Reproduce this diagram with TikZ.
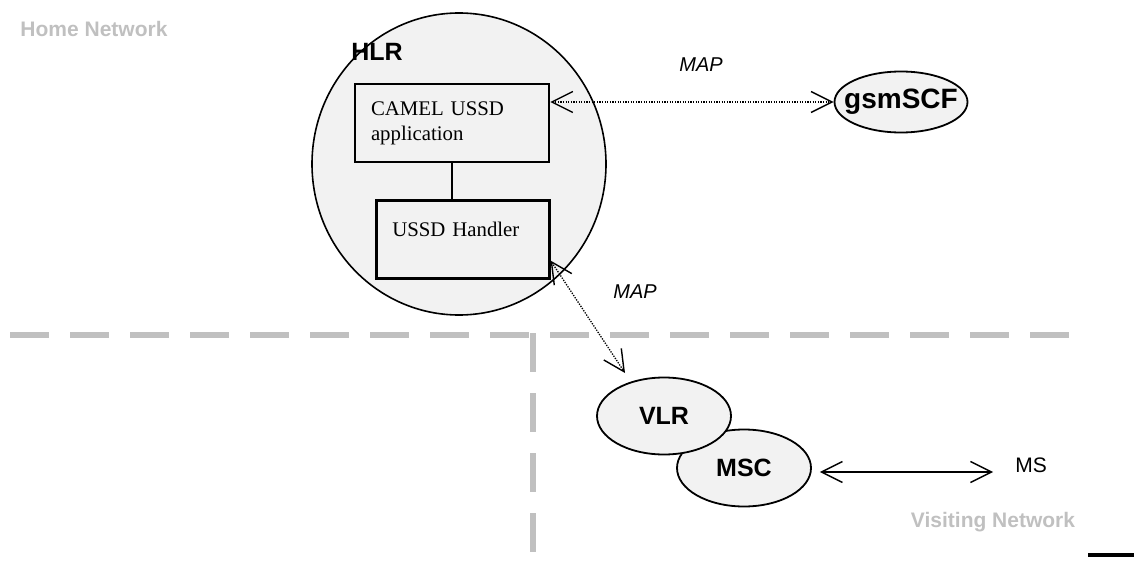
\documentclass[tikz,border=0pt]{standalone}
\usepackage{fontspec}
\setmainfont{Liberation Sans}
\newfontfamily\serifbox{Liberation Serif}
\usepackage{tikz}
\usetikzlibrary{arrows.meta,shapes.geometric}
\definecolor{netgray}{HTML}{C0C0C0}
\definecolor{shade}{HTML}{F2F2F2}

\begin{document}
\begin{tikzpicture}[x=1pt,y=-1pt,
  >={Straight Barb[length=21pt,width=21pt,line width=1.4pt]},
  unit/.style={draw,line width=1.8pt,fill=shade,ellipse,inner xsep=-20pt,inner ysep=0pt,font=\fontsize{25}{30}\selectfont\bfseries},
  appbox/.style={draw,line width=2.6pt,fill=shade,rectangle,align=left,inner xsep=16pt,font=\serifbox\fontsize{20.8}{25}\selectfont},
  netline/.style={netgray,line width=6pt,dash pattern=on 39pt off 21pt},
  nettag/.style={text=netgray,font=\fontsize{21}{25}\selectfont\bfseries},
  maplink/.style={<->,line width=1.3pt,dash pattern=on 1.3pt off 1.3pt},
  maptag/.style={font=\fontsize{20}{24}\selectfont\itshape}]
\useasboundingbox (0,0) rectangle (1134,572);
\draw[netline] (10,335) -- (1070,335);
\draw[netline] (533,333) -- (533,552);
\node[nettag] (home) at (94,29) {Home Network};
\node[nettag] (visiting) at (993,522) {Visiting Network};
\node[draw,line width=1.6pt,fill=shade,ellipse,minimum width=294pt,minimum height=302pt] (hlr) at (459,164) {};
\node[font=\fontsize{25}{30}\selectfont\bfseries] (hlrtag) at (377,52) {HLR};
\node[appbox,text width=162pt,minimum height=78pt] (app) at (452,123) {CAMEL USSD\\application};
\node[appbox,anchor=north west,inner ysep=0pt,text width=141pt,text height=36pt,text depth=42pt] (handler) at (375,199) {USSD Handler};
\draw[line width=2.6pt] (app.south) -- (app.south |- handler.north);
\node[unit,font=\fontsize{28}{32}\selectfont\bfseries,minimum width=133pt,minimum height=61pt] (scf) at (901,102) {gsmSCF};
\node[unit,minimum width=134pt,minimum height=77pt] (msc) at (744,468) {MSC};
\node[unit,minimum width=134pt,minimum height=77pt] (vlr) at (664,416) {VLR};
\node[maptag] (maptop) at (701,65) {MAP};
\node[maptag] (mapbottom) at (635,292) {MAP};
\node[font=\fontsize{21}{25}\selectfont] (ms) at (1031,465) {MS};
\coordinate (maptip) at (625,373);
\draw[maplink] (app.east |- scf.west) -- (scf.west);
\draw[maplink] ([yshift=19pt]handler.south east) -- (maptip);
\draw[<->,line width=1.6pt,shorten <=8pt,shorten >=18.7pt] ([yshift=-4pt]msc.east) -- ([yshift=-4pt]msc.east -| ms.west);
\fill (1088,553) rectangle (1134,557);
\end{tikzpicture}
\end{document}
